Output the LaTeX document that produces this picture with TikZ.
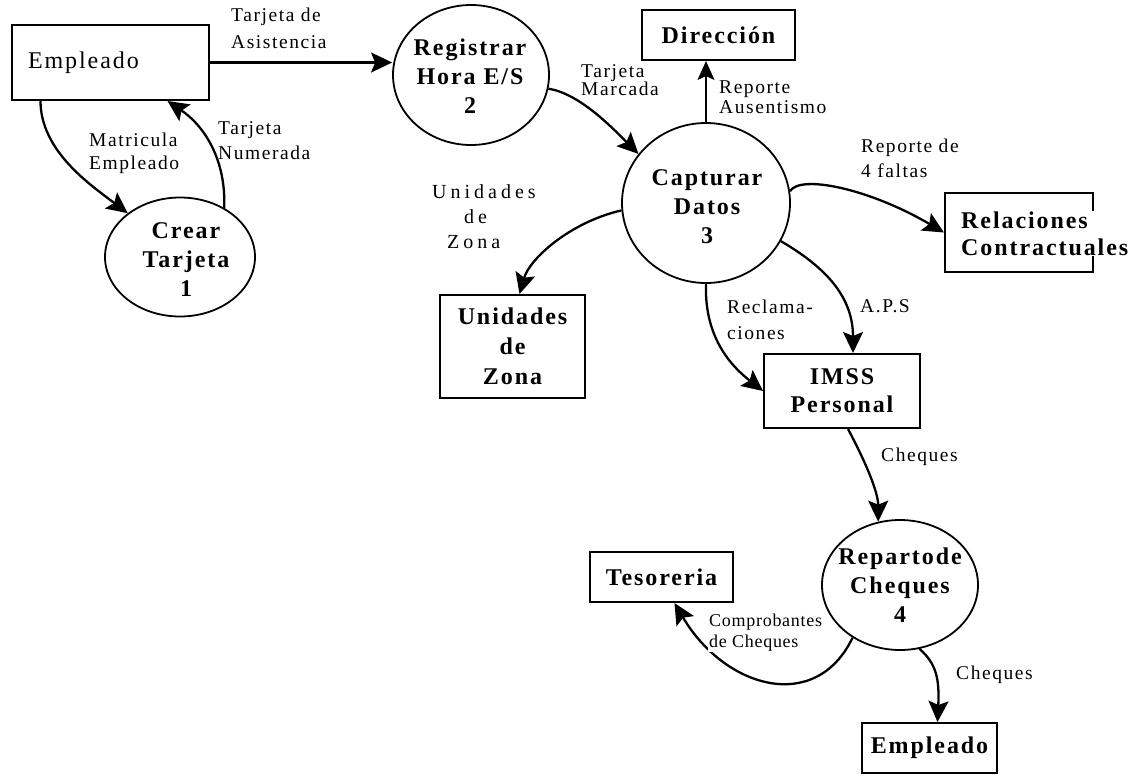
\documentclass[tikz,border=0pt]{standalone}
\usepackage{fontspec}
\setmainfont{Liberation Serif}
\newfontfamily\nodeff[LetterSpace=8]{Liberation Serif}
\newfontfamily\labff[LetterSpace=8]{Liberation Serif}
\newfontfamily\compff[LetterSpace=4]{Liberation Serif}
\newfontfamily\zonaff[LetterSpace=20]{Liberation Serif}
\usetikzlibrary{arrows.meta,shapes.geometric,calc}
\newcommand{\dfdbold}[1]{\nodeff\bfseries\fontsize{24}{#1}\selectfont}
\newcommand{\dflab}[1]{\labff\fontsize{19.5}{#1}\selectfont}
\begin{document}
\begin{tikzpicture}[x=1pt,y=-1pt,
  box/.style={draw,line width=2pt,rectangle,inner sep=0pt},
  proc/.style={draw,line width=1.8pt,ellipse,inner sep=0pt},
  ptext/.style={font=\dfdbold{29},align=center,inner sep=0pt},
  lab/.style={align=left,inner sep=1pt,anchor=west},
  whitelab/.style={lab,fill=white},
  flow/.style={line width=2.3pt,line join=round,-{Stealth[length=21pt,width=20pt,inset=4pt]}},
  thinflow/.style={line width=1.4pt,-{Stealth[length=19pt,width=17pt,inset=4pt]}}
]
\useasboundingbox (0,0) rectangle (1140,776);

% external entities
\node[box,minimum width=197pt,minimum height=75pt,text width=165pt,inner xsep=16pt,align=left,font=\nodeff\fontsize{24}{28}\selectfont] (emp) at (110.5,62.5) {Empleado};
\node[box,minimum width=153pt,minimum height=50pt,font=\dfdbold{28}] (dir) at (718.5,35) {Dirección};
\node[box,minimum width=145pt,minimum height=103pt,align=center,font=\dfdbold{30}] (uz) at (512.5,346.5) {Unidades\\de\\Zona};
\node[box,minimum width=148pt,minimum height=79pt] (rel) at (1019,232.5) {};
\node[box,minimum width=156pt,minimum height=74pt,align=center,font=\dfdbold{28}] (imss) at (842,391) {IMSS\\Personal};
\node[box,minimum width=143pt,minimum height=50pt,font=\dfdbold{28}] (tes) at (661.5,577) {Tesoreria};
\node[box,minimum width=135pt,minimum height=50pt,font=\dfdbold{28}] (emp2) at (929.5,748) {Empleado};

% processes
\node[proc,minimum width=150pt,minimum height=119pt] (c1) at (180,257) {};
\node[ptext] (c1t) at (186,260) {Crear\\Tarjeta\\1};
\node[proc,minimum width=156pt,minimum height=140pt] (p2) at (471,75) {};
\node[ptext] (p2t) at (470,76) {Registrar\\Hora E/S\\2};
\node[proc,minimum width=168pt,minimum height=160pt] (c3) at (706,203) {};
\node[ptext] (c3t) at (707,207) {Capturar\\Datos\\3};
\node[proc,minimum width=156pt,minimum height=130pt] (c4) at (900,585) {};
\node[ptext] (c4t) at (900,585) {Repartode\\Cheques\\4};

% flows
\draw[flow] (emp.east) -- (emp.east -| p2.west);
\draw[flow] ([xshift=-70pt]emp.south) .. controls +(0,50) and +(-37,-28) .. (c1.140);
\draw[flow] (c1.48) .. controls +(2,-48) and +(37,25) .. ([xshift=57pt]emp.south);
\draw[flow] (p2.-10) .. controls +(30,5) and +(-30,-30) .. (c3.144);
\draw[thinflow] (c3.north) -- (c3.north |- dir.south);
\draw[flow] (c3.185) .. controls +(-52,12) and +(10,-35) .. ([xshift=7pt]uz.north);
\draw[flow] (c3.south) .. controls +(-2,57) and +(-28,-22) .. (imss.west);
\draw[flow] (c3.-27) .. controls +(48,28) and +(0,-54) .. ([xshift=11pt]imss.north);
\draw[flow] (c3.8) .. controls +(10,-17) and +(-75,-44) .. (rel.west);
\draw[flow] ([xshift=6pt]imss.south) .. controls +(17,32) and +(0,-30) .. (c4.109);
\draw[flow] (c4.-73) .. controls +(17,15) and +(2,-43) .. ([xshift=8pt]emp2.north);
\draw[flow] (c4.228) .. controls +(-37,77) and +(50,85) .. ([xshift=13pt]tes.south);

% text over box border
\node[whitelab,font=\dfdbold{27}] (relt) at (960,233.5) {Relaciones\\Contractuales};

% labels
\node[lab,font=\dflab{27}] (l1) at (230,28.5) {Tarjeta de\\Asistencia};
\node[lab,font=\dflab{23}] (l2) at (88,153.5) {Matricula\\Empleado};
\node[lab,font=\dflab{25}] (l3) at (217,140.5) {Tarjeta\\Numerada};
\node[whitelab,font=\dflab{18}] (l4) at (580,80) {Tarjeta\\Marcada};
\node[lab,font=\dflab{20}] (l5) at (718,97.5) {Reporte\\Ausentismo};
\node[lab,font=\zonaff\fontsize{20}{25}\selectfont] (l6) at (431,217) {Unidades\\\hspace*{32pt}de\\\hspace*{15pt}Zona};
\node[lab,font=\dflab{25}] (l7) at (860,158.5) {Reporte de\\4 faltas};
\node[lab,font=\dflab{26}] (l8) at (726,320) {Reclama-\\ciones};
\node[lab,font=\dflab{22}] (l9) at (859,306) {A.P.S};
\node[lab,font=\dflab{22}] (l10) at (880,457) {Cheques};
\node[whitelab,font=\compff\fontsize{18}{21}\selectfont] (l11) at (708,632.5) {Comprobantes\\de Cheques};
\node[lab,font=\dflab{22}] (l12) at (955,675) {Cheques};
\end{tikzpicture}
\end{document}
